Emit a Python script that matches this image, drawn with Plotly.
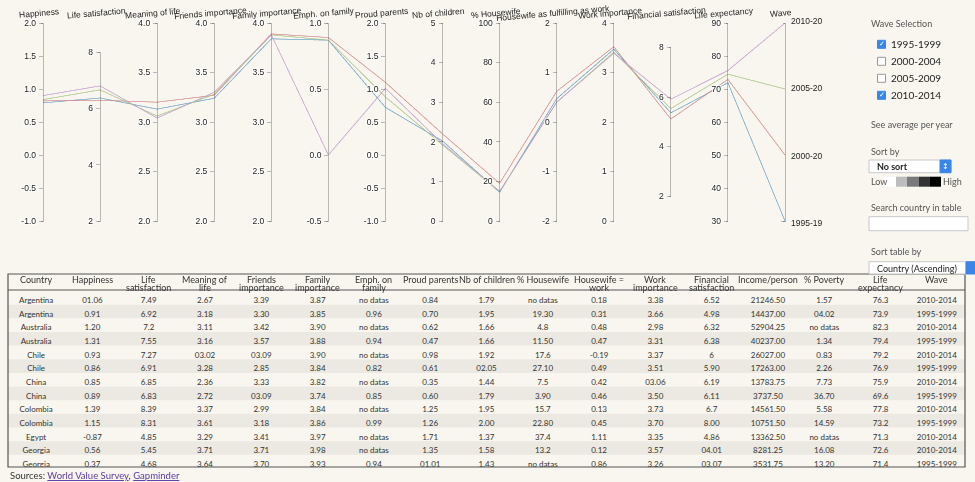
import plotly.graph_objects as go

W, H = 975, 482
BG = "#f8f6ee"
STRIPE = "#ebe9e1"

# ---------------- data: average per wave (parallel coordinates) ----------------
waves = ["1995-1999", "2000-2004", "2005-2009", "2010-2014"]
wave_index = [0, 1, 2, 3]
wave_colors = ["#55a5dc", "#eb8080", "#afd57a", "#d59ce6"]

happiness = [0.79, 0.82, 0.84, 0.90]
life_satisfaction = [6.38, 6.30, 6.67, 6.81]
meaning_of_life = [3.13, 3.20, 3.06, 3.04]
friends_importance = [3.24, 3.27, 3.28, 3.30]
family_importance = [3.84, 3.89, 3.88, 3.88]
emph_on_family = [0.87, 0.89, 0.87, 0.00]
proud_parents = [0.72, 1.10, 0.88, 1.01]
nb_children = [2.02, 2.20, 1.92, 1.95]
pct_housewife = [14.5, 19.0, 14.8, 15.0]
housewife_fulfilling = [0.47, 0.62, 0.40, 0.40]
work_importance = [3.47, 3.52, 3.41, 3.39]
financial_satisfaction = [5.37, 5.12, 5.54, 5.92]
life_expectancy = [71.9, 72.9, 74.5, 75.6]

axis_labels = ["Happiness", "Life satisfaction", "Meaning of life", "Friends importance",
               "Family importance", "Emph. on family", "Proud parents", "Nb of children",
               "% Housewife", "Housewife as fulfilling as work", "Work importance",
               "Financial satisfaction", "Life expectancy", "Wave"]

# ---------------- data: table ----------------
table_headers = ["Country", "Happiness", "Life<br>satisfaction", "Meaning of<br>life",
                 "Friends<br>importance", "Family<br>importance", "Emph. on<br>family",
                 "Proud parents", "Nb of children", "% Housewife", "Housewife =<br>work",
                 "Work<br>importance", "Financial<br>satisfaction", "Income/person",
                 "% Poverty", "Life<br>expectancy", "Wave"]
t_country = ["Argentina", "Argentina", "Australia", "Australia", "Chile", "Chile", "China",
             "China", "Colombia", "Colombia", "Egypt", "Georgia", "Georgia"]
t_happiness = ["01.06", "0.91", "1.20", "1.31", "0.93", "0.86", "0.85", "0.89", "1.39", "1.15", "-0.87", "0.56", "0.37"]
t_life_sat = ["7.49", "6.92", "7.2", "7.55", "7.27", "6.91", "6.85", "6.83", "8.39", "8.31", "4.85", "5.45", "4.68"]
t_meaning = ["2.67", "3.18", "3.11", "3.16", "03.02", "3.28", "2.36", "2.72", "3.37", "3.61", "3.29", "3.71", "3.64"]
t_friends = ["3.39", "3.30", "3.42", "3.57", "03.09", "2.85", "3.33", "03.09", "2.99", "3.18", "3.41", "3.71", "3.70"]
t_family = ["3.87", "3.85", "3.90", "3.88", "3.90", "3.84", "3.82", "3.74", "3.84", "3.86", "3.97", "3.98", "3.93"]
t_emph = ["no datas", "0.96", "no datas", "0.94", "no datas", "0.82", "no datas", "0.85", "no datas", "0.99", "no datas", "no datas", "0.94"]
t_proud = ["0.84", "0.70", "0.62", "0.47", "0.98", "0.61", "0.35", "0.60", "1.25", "1.26", "1.71", "1.35", "01.01"]
t_children = ["1.79", "1.95", "1.66", "1.66", "1.92", "02.05", "1.44", "1.79", "1.95", "2.00", "1.37", "1.58", "1.43"]
t_housewife = ["no datas", "19.30", "4.8", "11.50", "17.6", "27.10", "7.5", "3.90", "15.7", "22.80", "37.4", "13.2", "no datas"]
t_hw_work = ["0.18", "0.31", "0.48", "0.47", "-0.19", "0.49", "0.42", "0.46", "0.13", "0.45", "1.11", "0.12", "0.86"]
t_work = ["3.38", "3.66", "2.98", "3.31", "3.37", "3.51", "03.06", "3.50", "3.73", "3.70", "3.35", "3.57", "3.26"]
t_financial = ["6.52", "4.98", "6.32", "6.38", "6", "5.90", "6.19", "6.11", "6.7", "8.00", "4.86", "04.01", "03.07"]
t_income = ["21246.50", "14437.00", "52904.25", "40237.00", "26027.00", "17263.00", "13783.75",
            "3737.50", "14561.50", "10751.50", "13362.50", "8281.25", "3531.75"]
t_poverty = ["1.57", "04.02", "no datas", "1.34", "0.83", "2.26", "7.73", "36.70", "5.58", "14.59", "no datas", "16.08", "13.20"]
t_life_exp = ["76.3", "73.9", "82.3", "79.4", "79.2", "76.9", "75.9", "69.6", "77.8", "73.2", "71.3", "72.6", "71.4"]
t_wave = ["2010-2014", "1995-1999", "2010-2014", "1995-1999", "2010-2014", "1995-1999", "2010-2014",
          "1995-1999", "2010-2014", "1995-1999", "2010-2014", "2010-2014", "1995-1999"]

table_columns = [t_country, t_happiness, t_life_sat, t_meaning, t_friends, t_family, t_emph,
                 t_proud, t_children, t_housewife, t_hw_work, t_work, t_financial, t_income,
                 t_poverty, t_life_exp, t_wave]

checked = [True, False, False, True]


def px(x):
    return x / W


def py(y):
    return 1 - y / H


PC_X = [px(43), px(785)]
PC_Y = [py(223), py(21)]

dims = [
    dict(values=happiness, range=[-1, 2], tickvals=[-1, -0.5, 0, 0.5, 1, 1.5, 2], tickformat=".1f"),
    dict(values=life_satisfaction, range=[2, 9.05], tickvals=[2, 4, 6, 8]),
    dict(values=meaning_of_life, range=[2, 4], tickvals=[2, 2.5, 3, 3.5, 4], tickformat=".1f"),
    dict(values=friends_importance, range=[2, 4], tickvals=[2, 2.5, 3, 3.5, 4], tickformat=".1f"),
    dict(values=family_importance, range=[2, 4], tickvals=[2, 2.5, 3, 3.5, 4], tickformat=".1f"),
    dict(values=emph_on_family, range=[-0.5, 1], tickvals=[-0.5, 0, 0.5, 1], tickformat=".1f"),
    dict(values=proud_parents, range=[-1, 2], tickvals=[-1, -0.5, 0, 0.5, 1, 1.5, 2], tickformat=".1f"),
    dict(values=nb_children, range=[0, 5], tickvals=[0, 1, 2, 3, 4, 5]),
    dict(values=pct_housewife, range=[0, 100], tickvals=[0, 20, 40, 60, 80, 100]),
    dict(values=housewife_fulfilling, range=[-2, 2], tickvals=[-2, -1, 0, 1, 2]),
    dict(values=work_importance, range=[0, 4], tickvals=[0, 1, 2, 3, 4]),
    dict(values=financial_satisfaction, range=[1, 9], tickvals=[2, 4, 6, 8]),
    dict(values=life_expectancy, range=[30, 90], tickvals=[30, 40, 50, 60, 70, 80, 90]),
    dict(values=wave_index, range=[0, 3], tickvals=wave_index, ticktext=[""] * 4),
]
for d in dims:
    d["label"] = ""

n = len(wave_colors)
colorscale = [[i / (n - 1), c] for i, c in enumerate(wave_colors)]

fig = go.Figure()
fig.add_trace(go.Parcoords(
    domain=dict(x=PC_X, y=PC_Y),
    line=dict(color=wave_index, colorscale=colorscale, cmin=0, cmax=3, showscale=False),
    dimensions=dims,
    labelfont=dict(family="Liberation Sans, Arial", size=8, color="#222"),
    tickfont=dict(family="Liberation Sans, Arial", size=8.5, color="#222"),
    rangefont=dict(size=1, color="rgba(0,0,0,0)"),
))

nrows = len(t_country)
TB_X = [px(8), px(965)]
TB_Y = [py(467), py(274)]
HEADER_H = 15
ROW_H = 13.65
STRIPE_TOP = 291
fig.add_trace(go.Table(
    domain=dict(x=TB_X, y=TB_Y),
    columnwidth=[1] * len(table_headers),
    header=dict(values=[""] * len(table_headers), height=HEADER_H, align="center",
                fill=dict(color="rgba(0,0,0,0)"), line=dict(color="rgba(0,0,0,0)", width=0),
                font=dict(family="Lato", size=8.5, color="#333")),
    cells=dict(values=table_columns, height=ROW_H, align="center",
               fill=dict(color="rgba(0,0,0,0)"),
               line=dict(color="rgba(0,0,0,0)", width=0),
               font=dict(family="Lato", size=8, color="#333")),
))

shapes = []
annotations = []

# alternating row stripes behind the (transparent) table cells
for i in range(nrows):
    if i % 2 == 1:
        y0 = STRIPE_TOP + i * ROW_H
        y1 = min(y0 + ROW_H, 467)
        if y0 < 467:
            shapes.append(dict(type="rect", xref="paper", yref="paper", x0=TB_X[0], x1=TB_X[1],
                               y0=py(y1), y1=py(y0), fillcolor=STRIPE, line=dict(width=0), layer="below"))

# parallel-axis titles (slightly tilted, just above each axis)
step = (PC_X[1] - PC_X[0]) / (len(axis_labels) - 1)
for i, lab in enumerate(axis_labels):
    annotations.append(dict(x=PC_X[0] + i * step - px(4), y=py(13), xref="paper", yref="paper",
                            text=lab, showarrow=False, textangle=-5,
                            xanchor="center", yanchor="middle",
                            font=dict(family="Liberation Sans, Arial", size=8.5, color="#222")))

# wave tick labels on the right of the wave axis
for w, v in zip(waves, wave_index):
    annotations.append(dict(x=PC_X[1] + px(4), y=PC_Y[0] + (PC_Y[1] - PC_Y[0]) * v / 3,
                            xref="paper", yref="paper", text=w[:7], showarrow=False,
                            xanchor="left", yanchor="middle",
                            font=dict(family="Liberation Sans, Arial", size=8.5, color="#222")))

# table header (two tight lines)
ncol = len(table_headers)
cw = (TB_X[1] - TB_X[0]) / ncol
for i, h in enumerate(table_headers):
    for k, part in enumerate(h.split("<br>")):
        annotations.append(dict(x=TB_X[0] + (i + 0.5) * cw, y=py(279.5 + 8 * k), xref="paper", yref="paper",
                                text=part, showarrow=False, xanchor="center", yanchor="middle",
                                font=dict(family="Lato", size=9, color="#333")))

# table frame
shapes.append(dict(type="rect", xref="paper", yref="paper", x0=TB_X[0], x1=TB_X[1], y0=TB_Y[0], y1=TB_Y[1],
                   line=dict(color="#555", width=1.2), fillcolor="rgba(0,0,0,0)", layer="above"))
shapes.append(dict(type="line", xref="paper", yref="paper", x0=TB_X[0], x1=TB_X[1], y0=py(290), y1=py(290),
                   line=dict(color="#555", width=1), layer="above"))


def label(x, y, text, size=9, color="#555", anchor="left"):
    annotations.append(dict(x=px(x), y=py(y), xref="paper", yref="paper", text=text, showarrow=False,
                            xanchor=anchor, yanchor="middle", font=dict(family="Lato", size=size, color=color)))


def box(x0, y0, x1, y1, fill, line="#bbb", lw=1):
    shapes.append(dict(type="rect", xref="paper", yref="paper", x0=px(x0), x1=px(x1), y0=py(y1), y1=py(y0),
                       fillcolor=fill, line=dict(color=line, width=lw)))


label(869, 23, "Wave Selection", 9, "#555")
for i, (w, c) in enumerate(zip(waves, checked)):
    yc = 44.3 + 17 * i
    if c:
        box(877.5, yc - 4, 885.5, yc + 4, "#3a86e8", "#3a86e8")
        annotations.append(dict(x=px(881.5), y=py(yc), xref="paper", yref="paper", text="✓", showarrow=False,
                                xanchor="center", yanchor="middle",
                                font=dict(family="DejaVu Sans", size=7, color="white")))
    else:
        box(877.5, yc - 4, 885.5, yc + 4, "white", "#999")
    label(888.5, yc, w, 10, "#222")

label(869, 124.3, "See average per year", 9, "#555")
label(869, 151, "Sort by", 9, "#555")
box(869, 160, 951, 172.7, "white", "#c8c8c8")
box(940, 160, 951, 172.7, "#3a86e8", "#3a86e8")
annotations.append(dict(x=px(945.5), y=py(166.3), xref="paper", yref="paper", text="↕", showarrow=False,
                        xanchor="center", yanchor="middle", font=dict(family="DejaVu Sans", size=8, color="white")))
label(875, 166.3, "<b>No sort</b>", 9, "#222")

label(869, 181.5, "Low", 9, "#555")
for x0, x1, c in [(884, 896, "#ffffff"), (896, 907, "#bdbdbd"), (907, 919, "#7a7a7a"),
                  (919, 930, "#333333"), (930, 941, "#000000")]:
    box(x0, 176.7, x1, 186.7, c, c, 0)
label(941, 181.5, "High", 9, "#555")

label(869, 207.5, "Search country in table", 9, "#555")
box(869, 216.7, 968, 230.7, "white", "#c8c8c8")

label(869, 251, "Sort table by", 9, "#555")
box(869, 261.7, 966, 274, "white", "#c8c8c8")
box(966, 261.7, 975, 274, "#3a86e8", "#3a86e8")
label(875, 268, "Country (Ascending)", 9, "#222")

annotations.append(dict(x=px(8), y=py(475), xref="paper", yref="paper", showarrow=False,
                        xanchor="left", yanchor="middle",
                        text="Sources: <span style='color:#5b3aa8'><u>World Value Survey</u></span>, "
                             "<span style='color:#5b3aa8'><u>Gapminder</u></span>",
                        font=dict(family="Lato", size=9.5, color="#333")))

fig.update_layout(
    width=W, height=H,
    margin=dict(l=0, r=0, t=0, b=0),
    paper_bgcolor=BG, plot_bgcolor=BG,
    showlegend=False,
    shapes=shapes,
    annotations=annotations,
)

fig.write_html("out.html", config={"displayModeBar": False},
               post_script="document.body.style.margin='0';document.body.style.background='%s';" % BG)
